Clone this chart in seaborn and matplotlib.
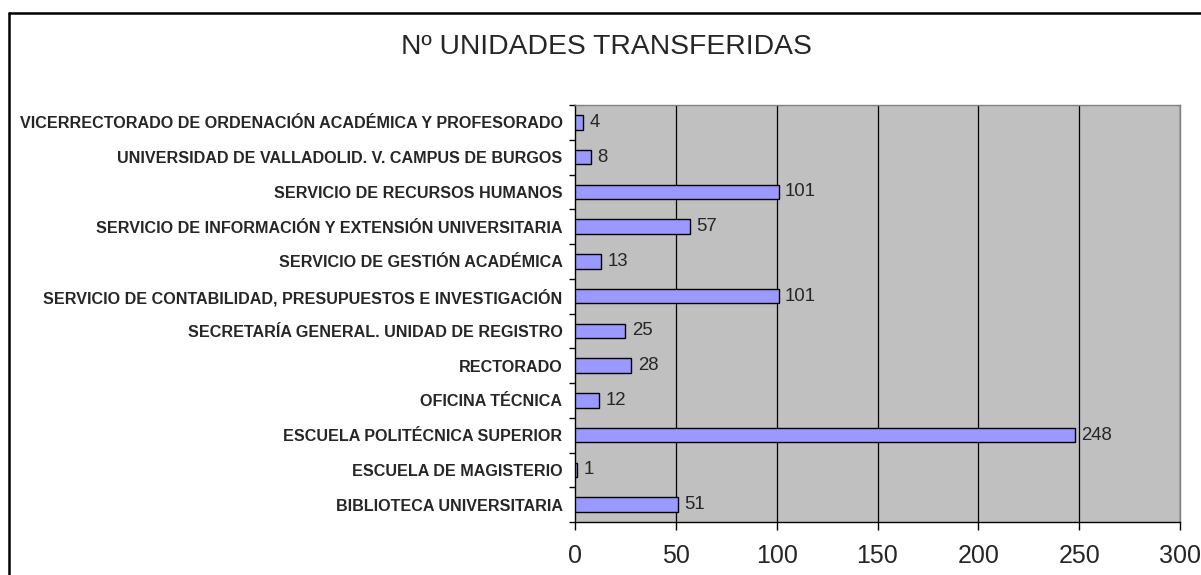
import matplotlib
matplotlib.use("Agg")
import matplotlib.pyplot as plt
import seaborn as sns
import pandas as pd
from matplotlib.lines import Line2D
from matplotlib.ticker import FixedLocator

categories = [
    "VICERRECTORADO DE ORDENACIÓN ACADÉMICA Y PROFESORADO",
    "UNIVERSIDAD DE VALLADOLID. V. CAMPUS DE BURGOS",
    "SERVICIO DE RECURSOS HUMANOS",
    "SERVICIO DE INFORMACIÓN Y EXTENSIÓN UNIVERSITARIA",
    "SERVICIO DE GESTIÓN ACADÉMICA",
    "SERVICIO DE CONTABILIDAD, PRESUPUESTOS E INVESTIGACIÓN",
    "SECRETARÍA GENERAL. UNIDAD DE REGISTRO",
    "RECTORADO",
    "OFICINA TÉCNICA",
    "ESCUELA POLITÉCNICA SUPERIOR",
    "ESCUELA DE MAGISTERIO",
    "BIBLIOTECA UNIVERSITARIA",
]
values = [4, 8, 101, 57, 13, 101, 25, 28, 12, 248, 1, 51]
x_ticks = [0, 50, 100, 150, 200, 250, 300]
title = "Nº UNIDADES TRANSFERIDAS"

sns.set_theme(style="white")
plt.rcParams["font.family"] = ["Liberation Sans", "DejaVu Sans"]

df = pd.DataFrame({"cat": categories, "val": values})

W, H = 1201, 575
fig = plt.figure(figsize=(W / 100, H / 100), dpi=100)
fig.patch.set_facecolor("white")
ax = fig.add_axes([575 / W, 1 - 522 / H, (1180 - 575) / W, (522 - 105) / H])
ax.set_facecolor("#C0C0C0")

sns.barplot(data=df, x="val", y="cat", orient="h", color="#9999FF",
            saturation=1, edgecolor="black", linewidth=1, width=0.42, ax=ax,
            zorder=3)

ax.set_xlim(0, 300)
ax.set_ylim(len(categories) - 0.5, -0.5)
ax.set_xticks(x_ticks)
ax.set_xticklabels([str(t) for t in x_ticks], fontsize=18)
ax.set_xlabel("")
ax.set_ylabel("")
ax.set_yticks(range(len(categories)))
ax.set_yticklabels(categories, fontsize=11.6, fontweight="bold")
ax.yaxis.set_minor_locator(FixedLocator([i - 0.5 for i in range(len(categories) + 1)]))
ax.tick_params(axis="y", which="major", length=0, pad=9)
ax.tick_params(axis="y", which="minor", length=4, width=1, color="black", direction="out", left=True)
ax.tick_params(axis="x", which="major", length=6, width=1, color="black", direction="out", bottom=True, pad=10)

for t in x_ticks[1:]:
    ax.axvline(t, color="black", linewidth=0.9, zorder=1)

for side in ["left", "bottom"]:
    ax.spines[side].set_color("black")
    ax.spines[side].set_linewidth(1)
    ax.spines[side].set_visible(True)
for side in ["top", "right"]:
    ax.spines[side].set_color("#808080")
    ax.spines[side].set_linewidth(1)
    ax.spines[side].set_visible(True)

ax.bar_label(ax.containers[0], labels=[str(v) for v in values], padding=4.5, fontsize=13.4)

fig.text(606 / W, 1 - 47 / H, title, ha="center", va="center", fontsize=20.3)

# outer frame (left and top edges visible)
fig.add_artist(Line2D([8.5 / W, 8.5 / W], [1 - 13 / H, 0], transform=fig.transFigure,
                      color="black", linewidth=1.8))
fig.add_artist(Line2D([8.5 / W, 1], [1 - 13 / H, 1 - 13 / H], transform=fig.transFigure,
                      color="black", linewidth=1.8))

fig.savefig("out.png", dpi=100)
